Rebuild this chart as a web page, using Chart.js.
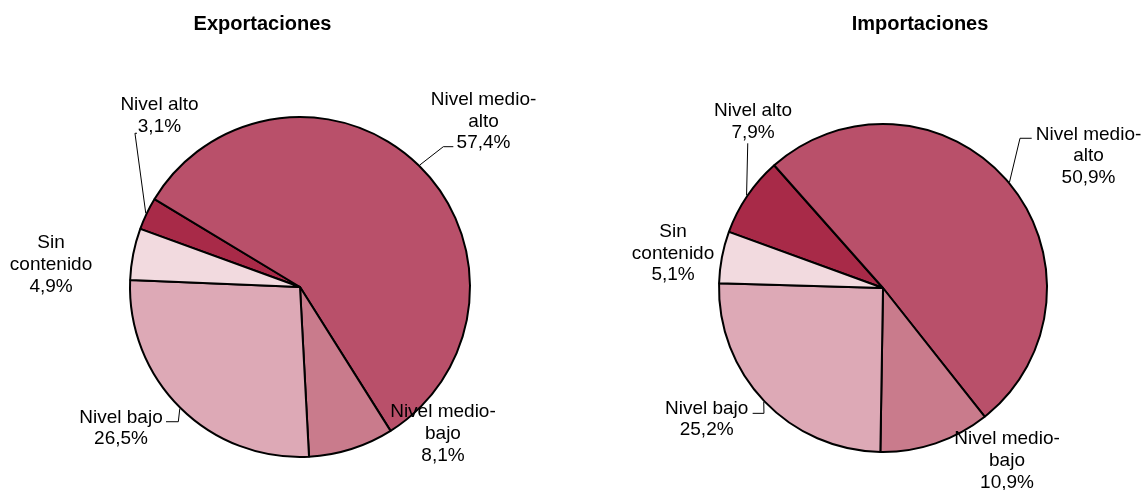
<!DOCTYPE html>
<html lang="es">
<head>
<meta charset="utf-8">
<title>Exportaciones e importaciones por contenido tecnológico</title>
<script src="https://cdn.jsdelivr.net/npm/chart.js@4.4.1/dist/chart.umd.min.js"></script>
<style>
  html, body { margin: 0; padding: 0; background: #fff; }
  #marco { position: relative; width: 1144px; height: 490px; }
  canvas { position: absolute; top: 0; }
  #tortaExp { left: 0; }
  #tortaImp { left: 572px; }
</style>
</head>
<body>
<div id="marco">
  <canvas id="tortaExp" width="572" height="490"></canvas>
  <canvas id="tortaImp" width="572" height="490"></canvas>
</div>
<script>
const categorias = ['Nivel alto', 'Nivel medio-alto', 'Nivel medio-bajo', 'Nivel bajo', 'Sin contenido'];
const exportaciones = [3.1, 57.4, 8.1, 26.5, 4.9];
const importaciones = [7.9, 50.9, 10.9, 25.2, 5.1];
const colores = ['#A82A48', '#B9506A', '#C97B8C', '#DDA9B6', '#F2DADF'];

const FUENTE = '"Liberation Sans", Arial, sans-serif';

// corta el texto en renglones como lo hace Excel (espacios y guiones)
function partir(ctx, texto, ancho) {
  const trozos = texto.match(/[^\s-]+-?\s*/g);
  const lineas = [];
  let actual = '';
  trozos.forEach(t => {
    const prueba = actual + t;
    if (actual && ctx.measureText(prueba.trim()).width > ancho) {
      lineas.push(actual.trim());
      actual = t;
    } else {
      actual = prueba;
    }
  });
  lineas.push(actual.trim());
  return lineas;
}

const etiquetas = {
  id: 'etiquetas',
  afterDraw(chart, args, opts) {
    const ctx = chart.ctx;
    const meta = chart.getDatasetMeta(0);
    const valores = chart.data.datasets[0].data;
    ctx.save();
    ctx.fillStyle = '#000';
    ctx.textAlign = 'center';
    ctx.textBaseline = 'middle';

    ctx.font = `bold 20px ${FUENTE}`;
    ctx.fillText(opts.titulo, opts.tituloX, 24);

    ctx.font = `19px ${FUENTE}`;
    meta.data.forEach((arco, i) => {
      const {x, y, startAngle, endAngle, outerRadius} =
        arco.getProps(['x', 'y', 'startAngle', 'endAngle', 'outerRadius'], true);
      const medio = (startAngle + endAngle) / 2;
      const bx = x + Math.cos(medio) * (outerRadius + 1);
      const by = y + Math.sin(medio) * (outerRadius + 1);
      const lugar = opts.lugares[i];
      const cx = bx + lugar.dx;
      const cy = by + lugar.dy;

      if (lugar.guia) {
        ctx.beginPath();
        ctx.moveTo(bx, by);
        lugar.guia.forEach(([gx, gy]) => ctx.lineTo(cx + gx, cy + gy));
        ctx.lineWidth = 1;
        ctx.strokeStyle = '#000';
        ctx.stroke();
      }

      const lineas = partir(ctx, chart.data.labels[i], 110);
      lineas.push(valores[i].toFixed(1).replace('.', ',') + '%');
      lineas.forEach((l, k) => {
        ctx.fillText(l, cx, cy + (k - (lineas.length - 1) / 2) * 21.8);
      });
    });
    ctx.restore();
  }
};

function torta(id, valores, radio, relleno, titulo, tituloX, lugares) {
  const ctx = document.getElementById(id).getContext('2d');
  return new Chart(ctx, {
    type: 'pie',
    data: {
      labels: categorias,
      datasets: [{
        data: valores,
        backgroundColor: colores,
        borderColor: '#000',
        borderWidth: 2
      }]
    },
    options: {
      responsive: false,
      animation: false,
      events: [],
      rotation: 290,
      radius: radio,
      layout: { padding: relleno },
      plugins: {
        legend: { display: false },
        tooltip: { enabled: false },
        title: { display: false },
        etiquetas: { titulo, tituloX, lugares }
      }
    },
    plugins: [etiquetas]
  });
}

torta('tortaExp', exportaciones, 170, { left: 28, right: 0, top: 84, bottom: 0 },
  'Exportaciones', 262.5, [
    { dx: 13.7, dy: -97.2, guia: [[-24.5, 17.3], [-22.5, 17.3]] },
    { dx: 63.7, dy: -43.6, guia: [[-40.2, 25.3], [-30.2, 25.3]] },
    { dx: 91.2, dy: -16.4 },
    { dx: -58.8, dy: 19.7, guia: [[57.3, -6.6], [45, -6.6]] },
    { dx: -81.2, dy: 10.8 }
  ]);

torta('tortaImp', importaciones, 164, { left: 50, right: 0, top: 86, bottom: 0 },
  'Importaciones', 348, [
    { dx: 6.5, dy: -73.4, guia: [[-5.3, 21.5]] },
    { dx: 79, dy: -26, guia: [[-68.5, -17.8], [-56.8, -17.8]] },
    { dx: 71.1, dy: 16.3 },
    { dx: -57.1, dy: 17.2, guia: [[57.3, -5.9], [46, -5.9]] },
    { dx: -47.9, dy: -3.7 }
  ]);
</script>
</body>
</html>
